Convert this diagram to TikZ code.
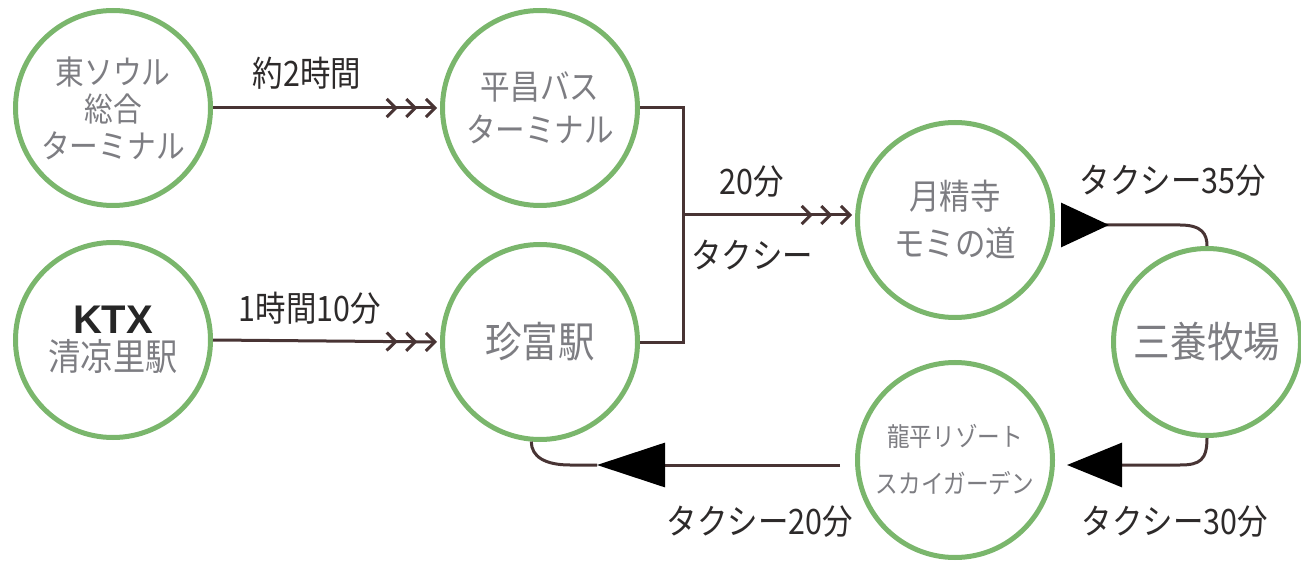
\documentclass[tikz,border=0pt]{standalone}
\usepackage{fontspec}
\setmainfont{Noto Sans CJK JP}
\newfontfamily\jpfont[FakeStretch=0.87]{Noto Sans CJK JP}
\newfontfamily\ktxfont{Liberation Sans}
\usetikzlibrary{arrows.meta, positioning, calc}
\definecolor{ringgreen}{RGB}{122,182,108}
\definecolor{placegray}{RGB}{125,125,130}
\definecolor{routebrown}{RGB}{72,52,52}
\definecolor{labelgray}{RGB}{45,42,42}

\begin{document}
\begin{tikzpicture}[x=1pt, y=-1pt]
    \tikzstyle{place} = [circle, draw=ringgreen, line width=5pt, minimum size=195pt, inner sep=0pt, align=center, text=placegray, font=\jpfont\fontsize{33}{37}\selectfont]
    \tikzstyle{timelabel} = [text=labelgray, inner sep=0pt, font=\jpfont\fontsize{35}{38}\selectfont]
    \tikzstyle{route} = [draw=routebrown, line width=3pt]
    \tikzstyle{bus} = [route, shorten >=3pt, -{Straight Barb[length=9pt,width=18pt,sep=7pt] Straight Barb[length=9pt,width=18pt,sep=7pt] Straight Barb[length=9pt,width=18pt]}]

    \useasboundingbox (0,0) rectangle (1301,561);

    % Nodes
    \node (eastseoul) [place] at (113,108) {東ソウル\\総合\\ターミナル};
    \node (cheongnyangni) [place] at (113,340) {{\ktxfont\bfseries\color{black!85}\fontsize{40}{44}\selectfont KTX}\\{\fontsize{37}{44}\selectfont 清凉里駅}};
    \node (pyeongchang) [place, font=\jpfont\fontsize{34}{43}\selectfont] at (540,108) {平昌バス\\ターミナル};
    \node (jinbu) [place, font=\jpfont\fontsize{42}{44}\selectfont] at (540,342) {珍富駅};
    \node (woljeongsa) [place, font=\jpfont\fontsize{35}{47}\selectfont] at (955,220) {月精寺\\モミの道};
    \node (samyang) [place, minimum size=187pt, font=\jpfont\fontsize{42}{44}\selectfont] at (1207,342) {三養牧場};
    \node (yongpyong) [place, font=\jpfont\fontsize{26}{47}\selectfont] at (955,460) {龍平リゾート\\スカイガーデン};

    % Labels
    \node (t_seoul) [timelabel] at (307,73) {約2時間};
    \node (t_ktx) [timelabel] at (310,308) {1時間10分};
    \node (t_min20) [timelabel] at (752,182) {20分};
    \node (t_taxi) [timelabel] at (752,255) {タクシー};
    \node (t_taxi35) [timelabel] at (1173,181) {タクシー35分};
    \node (t_taxi30) [timelabel] at (1175,522) {タクシー30分};
    \node (t_taxi20) [timelabel] at (760,522) {タクシー20分};

    \coordinate (junction) at (683,215);
    \coordinate (bend35) at (1180,225);
    \coordinate (bend30) at (1180,465);
    \coordinate (tip20) at (597,465);
    \coordinate (bend20) at (570,465);

    % Arrows
    \draw [bus] (eastseoul.east) -- (pyeongchang.west);
    \draw [bus] (cheongnyangni.east) -- (jinbu.west);
    \draw [route] (pyeongchang.east) -| (junction) |- (jinbu.east);
    \draw [bus] (junction) -- (junction -| woljeongsa.west);
    \draw [route, {Triangle[reversed,length=48pt,width=44pt,black]}-] ($(woljeongsa.east)+(6,5)$) -- (bend35) .. controls +(22,0) and +(0,-12) .. (samyang.north);
    \draw [route, -{Triangle[length=55pt,width=44pt,black]}] (samyang.south) .. controls +(0,22) and +(20,0) .. (bend30) -- ($(yongpyong.east)+(12,5)$);
    \draw [route, -{Triangle[length=68pt,width=44pt,black]}] ($(yongpyong.west)+(-15,5)$) -- (tip20);
    \draw [route] (tip20) -- (bend20) .. controls +(-25,0) and +(0,15) .. (jinbu.265);
\end{tikzpicture}
\end{document}
